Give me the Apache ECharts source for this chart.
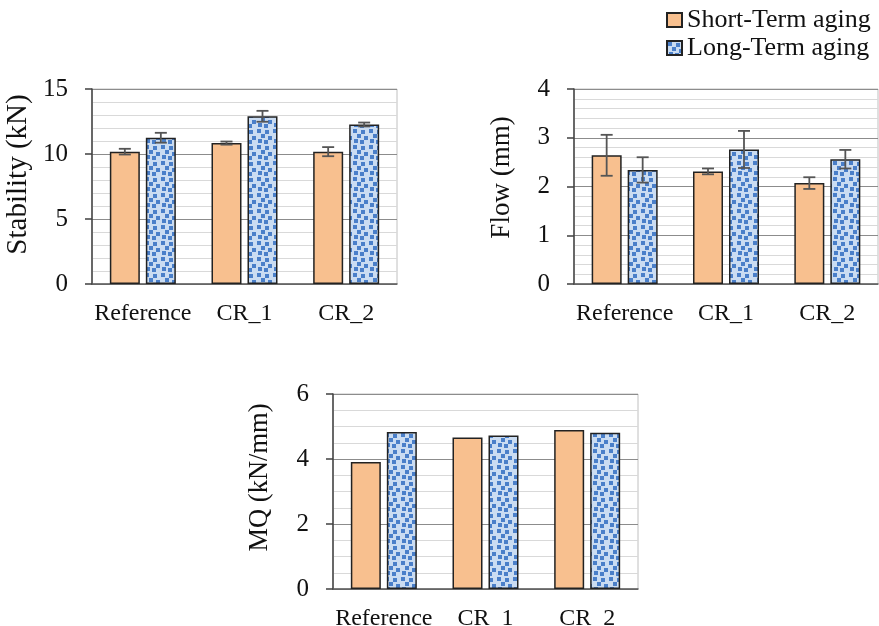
<!DOCTYPE html>
<html>
<head>
<meta charset="utf-8">
<script src="https://cdn.jsdelivr.net/npm/echarts@6/dist/echarts.min.js"></script>
<style>
  html, body { margin: 0; padding: 0; background: #ffffff; }
  #chart { width: 879px; height: 626px; }
</style>
</head>
<body>
<div id="chart"></div>
<script>
// Mix groups and aging conditions
const categories = ['Reference', 'CR_1', 'CR_2'];
const seriesNames = ['Short-Term aging', 'Long-Term aging'];

// Marshall stability (kN) with standard deviations
const stabilityShort = [10.18, 10.84, 10.18];
const stabilityLong = [11.25, 12.90, 12.27];
const stabilityShortErr = [0.22, 0.12, 0.35];
const stabilityLongErr = [0.38, 0.42, 0.15];

// Marshall flow (mm) with standard deviations
const flowShort = [2.64, 2.31, 2.07];
const flowLong = [2.34, 2.76, 2.56];
const flowShortErr = [0.42, 0.06, 0.12];
const flowLongErr = [0.26, 0.38, 0.19];

// Marshall quotient (kN/mm)
const mqShort = [3.91, 4.66, 4.89];
const mqLong = [4.83, 4.72, 4.81];

const FONT = "'Liberation Serif', 'Times New Roman', serif";
const TEXT = '#111111';

// Dotted "confetti" fill used for the long-term bars
function makeConfetti() {
  const size = 16;
  const c = document.createElement('canvas');
  c.width = size; c.height = size;
  const g = c.getContext('2d');
  g.fillStyle = '#cadcf2';
  g.fillRect(0, 0, size, size);
  g.fillStyle = '#4a7fc9';
  [[1, 1], [9, 2], [5, 6], [12, 8], [2, 11], [8, 12]].forEach(([x, y]) => {
    g.fillRect(x, y, 4, 4);
    if (x + 4 > size) g.fillRect(x - size, y, 4, 4);
    if (y + 4 > size) g.fillRect(x, y - size, 4, 4);
  });
  return c;
}
const confetti = makeConfetti();

const shortStyle = { color: '#f8c08f', borderColor: '#222222', borderWidth: 1.5 };
const longStyle = { color: { image: confetti, repeat: 'repeat' }, borderColor: '#222222', borderWidth: 1.5 };

const grids = [
  { left: 92, top: 89, width: 305, height: 195 },
  { left: 574, top: 89, width: 304, height: 195 },
  { left: 333, top: 394, width: 305, height: 195 }
];

function xAxisCfg(gi) {
  return {
    type: 'category', gridIndex: gi, data: categories,
    axisLine: { show: true, lineStyle: { color: '#595959', width: 1.5 } },
    axisTick: { show: false },
    axisLabel: { interval: 0, margin: 18, fontFamily: FONT, fontSize: 24, color: TEXT },
    splitLine: { show: false }
  };
}

// shiftUp moves the rotated title above the middle of the axis
function yAxisCfg(gi, name, nameSize, shiftUp, max, interval, minorSplit) {
  return {
    type: 'value', gridIndex: gi, min: 0, max: max, interval: interval,
    name: name, nameLocation: 'middle', nameGap: 59, nameRotate: 90,
    nameTextStyle: { fontFamily: FONT, fontSize: nameSize, color: TEXT, padding: [0, 0, 0, shiftUp * 2] },
    axisLine: { show: true, lineStyle: { color: '#404040', width: 1.5 } },
    axisTick: { show: true, length: 7, lineStyle: { color: '#404040', width: 1.5 } },
    axisLabel: { margin: 24, fontFamily: FONT, fontSize: 25, color: TEXT },
    splitLine: { show: true, lineStyle: { color: '#8c8c8c', width: 1 } },
    minorTick: { show: false, splitNumber: minorSplit },
    minorSplitLine: { show: true, lineStyle: { color: '#d9d9d9', width: 1 } }
  };
}

function barSeries(gi, name, data, style) {
  return {
    type: 'bar', name: name, xAxisIndex: gi, yAxisIndex: gi, data: data,
    barWidth: 30, barGap: '20%', itemStyle: style, z: 3,
    emphasis: { disabled: true }
  };
}

// Whiskers centred on each bar of a group (offset = half bar + half gap)
function errorSeries(gi, values, errs, offset) {
  return {
    type: 'custom', name: 'err', xAxisIndex: gi, yAxisIndex: gi, z: 6,
    data: values.map((v, i) => [i, v, errs[i]]),
    renderItem: function (params, api) {
      const i = api.value(0), v = api.value(1), e = api.value(2);
      const hi = api.coord([i, v + e]);
      const lo = api.coord([i, v - e]);
      const x = hi[0] + offset;
      const cap = 6;
      const st = { stroke: '#555555', lineWidth: 1.8 };
      return {
        type: 'group',
        children: [
          { type: 'line', shape: { x1: x, y1: hi[1], x2: x, y2: lo[1] }, style: st },
          { type: 'line', shape: { x1: x - cap, y1: hi[1], x2: x + cap, y2: hi[1] }, style: st },
          { type: 'line', shape: { x1: x - cap, y1: lo[1], x2: x + cap, y2: lo[1] }, style: st }
        ]
      };
    }
  };
}

const chart = echarts.init(document.getElementById('chart'), null, { renderer: 'canvas' });
chart.setOption({
  animation: false,
  backgroundColor: '#ffffff',
  legend: {
    data: seriesNames, orient: 'vertical', left: 666, top: 7, padding: 0,
    itemWidth: 15, itemHeight: 14, itemGap: 2,
    icon: 'rect',
    textStyle: { fontFamily: FONT, fontSize: 26, color: TEXT, lineHeight: 26 }
  },
  grid: grids.map(g => Object.assign({
    show: true, borderColor: '#c0c0c0', borderWidth: 1, backgroundColor: 'transparent',
    containLabel: false, outerBoundsMode: 'none'
  }, g)),
  xAxis: [xAxisCfg(0), xAxisCfg(1), xAxisCfg(2)],
  yAxis: [
    yAxisCfg(0, 'Stability (kN)', 29, 12, 15, 5, 5),
    yAxisCfg(1, 'Flow (mm)', 27, 9, 4, 1, 5),
    yAxisCfg(2, 'MQ (kN/mm)', 26.5, 14, 6, 2, 4)
  ],
  series: [
    barSeries(0, seriesNames[0], stabilityShort, shortStyle),
    barSeries(0, seriesNames[1], stabilityLong, longStyle),
    errorSeries(0, stabilityShort, stabilityShortErr, -18),
    errorSeries(0, stabilityLong, stabilityLongErr, 18),
    barSeries(1, seriesNames[0], flowShort, shortStyle),
    barSeries(1, seriesNames[1], flowLong, longStyle),
    errorSeries(1, flowShort, flowShortErr, -18),
    errorSeries(1, flowLong, flowLongErr, 18),
    barSeries(2, seriesNames[0], mqShort, shortStyle),
    barSeries(2, seriesNames[1], mqLong, longStyle)
  ]
});
</script>
</body>
</html>
